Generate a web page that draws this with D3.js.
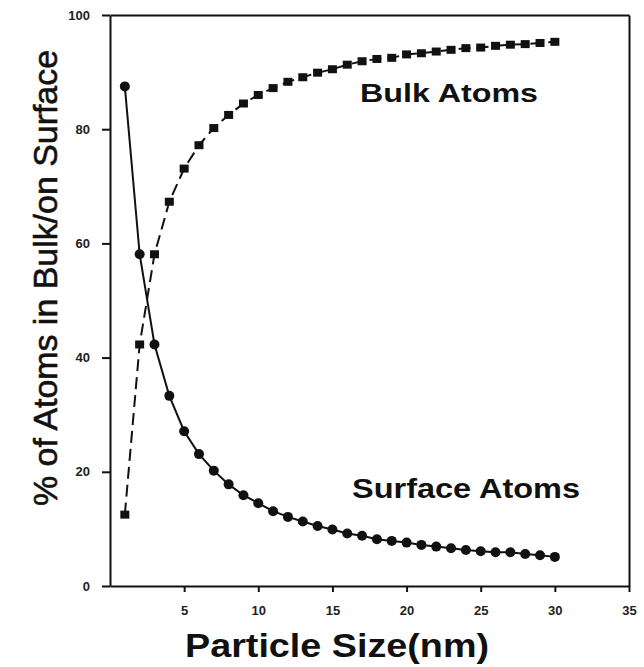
<!DOCTYPE html>
<html>
<head>
<meta charset="utf-8">
<script src="https://cdn.jsdelivr.net/npm/d3@7"></script>
<style>
  body { margin: 0; background: #fff; }
  .axis path, .axis line { stroke: #111; stroke-width: 2; }
  .axis text { font-family: "Liberation Sans", Arial, sans-serif; font-weight: bold; font-size: 13px; fill: #222; }
  .label { font-family: "Liberation Sans", Arial, sans-serif; font-weight: bold; fill: #111; }
</style>
</head>
<body>
<div id="chart"></div>
<script>
"use strict";

// particle size (nm)
var sizes = [1, 2, 3, 4, 5, 6, 7, 8, 9, 10, 11, 12, 13, 14, 15,
  16, 17, 18, 19, 20, 21, 22, 23, 24, 25, 26, 27, 28, 29, 30];

// % of atoms in bulk (squares, dashed)
var bulkAtoms = [12.5, 42.3, 58.1, 67.3, 73.1, 77.2, 80.2, 82.5, 84.5, 86.0,
  87.2, 88.3, 89.1, 89.9, 90.5, 91.3, 91.9, 92.3, 92.5, 93.1,
  93.3, 93.6, 93.9, 94.2, 94.3, 94.6, 94.8, 94.9, 95.1, 95.3];

// % of atoms on surface (circles, solid)
var surfaceAtoms = [87.5, 58.1, 42.3, 33.3, 27.1, 23.1, 20.2, 17.8, 15.9, 14.5,
  13.1, 12.1, 11.3, 10.5, 9.9, 9.2, 8.8, 8.2, 7.9, 7.6,
  7.2, 6.9, 6.6, 6.3, 6.1, 5.9, 5.9, 5.6, 5.4, 5.1];

var xTicks = [5, 10, 15, 20, 25, 30, 35];
var yTicks = [0, 20, 40, 60, 80, 100];

function drawChart(w, h) {

  var left = 110, right = 629, top = 15, bottom = 586;

  var bulk = sizes.map(function (d, i) { return { size: d, value: bulkAtoms[i] }; });
  var surface = sizes.map(function (d, i) { return { size: d, value: surfaceAtoms[i] }; });

  //Scale functions
  var xScale = d3.scaleLinear().domain([0, 35]).range([left, right]);
  var yScale = d3.scaleLinear().domain([0, 100]).range([bottom, top]);

  var svg = d3.select("#chart")
    .append("svg")
    .attr("width", w)
    .attr("height", h);

  //Axes
  svg.append("g")
    .attr("class", "axis")
    .attr("transform", "translate(0," + bottom + ")")
    .call(d3.axisBottom(xScale).tickValues(xTicks).tickSize(6).tickSizeOuter(0).tickPadding(14));

  svg.append("g")
    .attr("class", "axis")
    .attr("transform", "translate(" + left + ",0)")
    .call(d3.axisLeft(yScale).tickValues(yTicks).tickSize(8).tickSizeOuter(0).tickPadding(12));

  //Box top and right
  svg.append("g")
    .attr("class", "axis")
    .attr("transform", "translate(0," + top + ")")
    .call(d3.axisTop(xScale).tickValues([]).tickSizeOuter(0));

  svg.append("g")
    .attr("class", "axis")
    .attr("transform", "translate(" + right + ",0)")
    .call(d3.axisRight(yScale).tickValues([]).tickSizeOuter(0));

  //Line generator
  var line = d3.line()
    .x(function (d) { return xScale(d.size); })
    .y(function (d) { return yScale(d.value); });

  svg.append("path")
    .datum(bulk)
    .attr("fill", "none")
    .attr("stroke", "#111")
    .attr("stroke-width", 2)
    .attr("stroke-dasharray", "12,6")
    .attr("d", line);

  svg.append("path")
    .datum(surface)
    .attr("fill", "none")
    .attr("stroke", "#111")
    .attr("stroke-width", 2)
    .attr("d", line);

  //Square markers
  svg.selectAll(".sq")
    .data(bulk)
    .enter()
    .append("rect")
    .attr("class", "sq")
    .attr("x", function (d) { return xScale(d.size) - 4.5; })
    .attr("y", function (d) { return yScale(d.value) - 4; })
    .attr("width", 9)
    .attr("height", 8)
    .attr("fill", "#111");

  //Circle markers
  svg.selectAll(".dot")
    .data(surface)
    .enter()
    .append("circle")
    .attr("class", "dot")
    .attr("cx", function (d) { return xScale(d.size); })
    .attr("cy", function (d) { return yScale(d.value); })
    .attr("r", 5)
    .attr("fill", "#111");

  //Series labels
  svg.append("text")
    .attr("class", "label")
    .attr("x", 360)
    .attr("y", 102)
    .attr("font-size", 26)
    .attr("textLength", 178)
    .attr("lengthAdjust", "spacingAndGlyphs")
    .text("Bulk Atoms");

  svg.append("text")
    .attr("class", "label")
    .attr("x", 352)
    .attr("y", 498)
    .attr("font-size", 27)
    .attr("textLength", 228)
    .attr("lengthAdjust", "spacingAndGlyphs")
    .text("Surface Atoms");

  //Axis titles
  svg.append("text")
    .attr("class", "label")
    .attr("x", 185)
    .attr("y", 657)
    .attr("font-size", 33)
    .attr("textLength", 304)
    .attr("lengthAdjust", "spacingAndGlyphs")
    .text("Particle Size(nm)");

  svg.append("text")
    .attr("transform", "translate(57,278) rotate(-90)")
    .attr("text-anchor", "middle")
    .attr("font-family", "'Liberation Sans', Arial, sans-serif")
    .attr("font-size", 33)
    .attr("fill", "#111")
    .attr("stroke", "#111")
    .attr("stroke-width", 0.6)
    .attr("textLength", 456)
    .attr("lengthAdjust", "spacingAndGlyphs")
    .text("% of Atoms in Bulk/on Surface");
}

function init() {
  drawChart(644, 667);
}

window.onload = init;
</script>
</body>
</html>
